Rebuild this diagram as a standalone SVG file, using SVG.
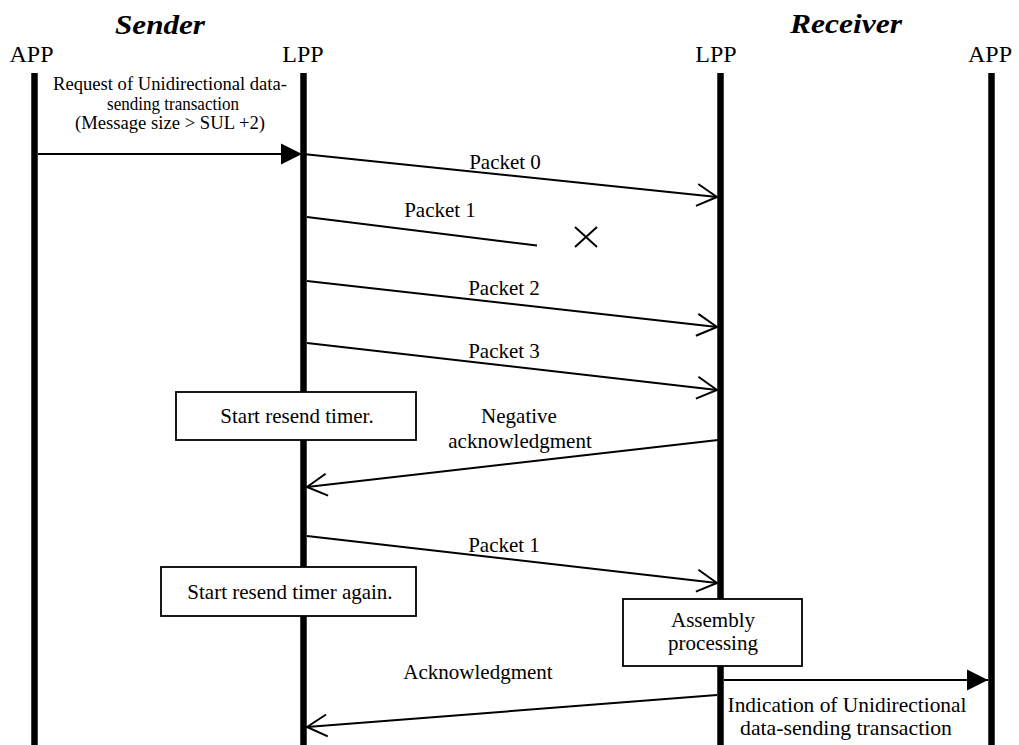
<svg xmlns="http://www.w3.org/2000/svg" width="1019" height="745" viewBox="0 0 1019 745">
  <style>
    text { font-family: "Liberation Serif", "Times New Roman", serif; fill: #000; }
    .title { font-size: 28px; font-weight: bold; font-style: italic; text-anchor: middle; }
    .head { font-size: 24px; text-anchor: middle; }
    .lbl { font-size: 21px; text-anchor: middle; }
    .req { font-size: 19px; text-anchor: middle; }
    .life { stroke: #000; stroke-width: 6.5; fill: none; }
    .msg { stroke: #000; stroke-width: 2; fill: none; }
    .box { fill: #fff; stroke: #000; stroke-width: 1.8; }
  </style>
  <defs>
    <marker id="open" markerUnits="userSpaceOnUse" markerWidth="30" markerHeight="30" viewBox="-24 -15 30 30" refX="0" refY="0" orient="auto">
      <path d="M-20,-11 L0,0 L-20,11" fill="none" stroke="#000" stroke-width="2"/>
    </marker>
    <marker id="solid" markerUnits="userSpaceOnUse" markerWidth="30" markerHeight="30" viewBox="-24 -15 30 30" refX="0" refY="0" orient="auto">
      <path d="M-21,-10.5 L0,0 L-21,10.5 Z" fill="#000"/>
    </marker>
  </defs>
  <rect width="1019" height="745" fill="#fff"/>

  <!-- side titles -->
  <text class="title" x="160" y="34" textLength="90" lengthAdjust="spacingAndGlyphs">Sender</text>
  <text class="title" x="846" y="33" textLength="112" lengthAdjust="spacingAndGlyphs">Receiver</text>

  <!-- lifelines -->
  <g id="sender-app">
    <text class="head" x="31.5" y="62">APP</text>
    <line class="life" x1="34.5" y1="73" x2="34.5" y2="745"/>
  </g>
  <g id="sender-lpp">
    <text class="head" x="303" y="62">LPP</text>
    <line class="life" x1="303.5" y1="73" x2="303.5" y2="745"/>
  </g>
  <g id="receiver-lpp">
    <text class="head" x="716" y="62">LPP</text>
    <line class="life" x1="720.5" y1="73" x2="720.5" y2="745"/>
  </g>
  <g id="receiver-app">
    <text class="head" x="990" y="62">APP</text>
    <line class="life" x1="991.5" y1="73" x2="991.5" y2="745"/>
  </g>

  <!-- messages -->
  <g id="connectors">
    <line class="msg" x1="38" y1="154" x2="302" y2="154" marker-end="url(#solid)"/>
    <line class="msg" x1="303" y1="154" x2="717" y2="197" marker-end="url(#open)"/>
    <line class="msg" x1="307" y1="217" x2="537" y2="245.5"/>
    <line class="msg" x1="307" y1="281" x2="717" y2="327" marker-end="url(#open)"/>
    <line class="msg" x1="307" y1="343" x2="717" y2="390" marker-end="url(#open)"/>
    <line class="msg" x1="718" y1="440" x2="307" y2="487" marker-end="url(#open)"/>
    <line class="msg" x1="307" y1="536" x2="717" y2="583" marker-end="url(#open)"/>
    <line class="msg" x1="724" y1="680" x2="988" y2="680" marker-end="url(#solid)"/>
    <line class="msg" x1="717" y1="695" x2="307" y2="727" marker-end="url(#open)"/>
    <!-- lost packet mark -->
    <path class="msg" d="M575,227 L597,247 M597,227 L575,247"/>
  </g>

  <!-- message labels -->
  <g id="labels">
    <text class="req" x="170" y="90" textLength="234" lengthAdjust="spacingAndGlyphs">Request of Unidirectional data-</text>
    <text class="req" x="173" y="109.5" textLength="132" lengthAdjust="spacingAndGlyphs">sending transaction</text>
    <text class="req" x="170" y="129" textLength="190" lengthAdjust="spacingAndGlyphs">(Message size &gt; SUL +2)</text>
    <text class="lbl" x="505" y="169">Packet 0</text>
    <text class="lbl" x="440" y="217">Packet 1</text>
    <text class="lbl" x="504" y="295">Packet 2</text>
    <text class="lbl" x="504" y="358">Packet 3</text>
    <text class="lbl" x="519" y="423">Negative</text>
    <text class="lbl" x="520" y="448">acknowledgment</text>
    <text class="lbl" x="504" y="552">Packet 1</text>
    <text class="lbl" x="478" y="679">Acknowledgment</text>
    <text class="lbl" x="847" y="712" textLength="239" lengthAdjust="spacingAndGlyphs">Indication of Unidirectional</text>
    <text class="lbl" x="846" y="735" textLength="212" lengthAdjust="spacingAndGlyphs">data-sending transaction</text>
  </g>

  <!-- process boxes -->
  <g id="start-timer">
    <rect class="box" x="176" y="392" width="240" height="48"/>
    <text class="lbl" x="297" y="423">Start resend timer.</text>
  </g>
  <g id="start-timer-again">
    <rect class="box" x="161" y="567" width="255" height="49"/>
    <text class="lbl" x="290" y="599">Start resend timer again.</text>
  </g>
  <g id="assembly">
    <rect class="box" x="623" y="599" width="179" height="67"/>
    <text class="lbl" x="713" y="627">Assembly</text>
    <text class="lbl" x="713" y="650">processing</text>
  </g>
</svg>
